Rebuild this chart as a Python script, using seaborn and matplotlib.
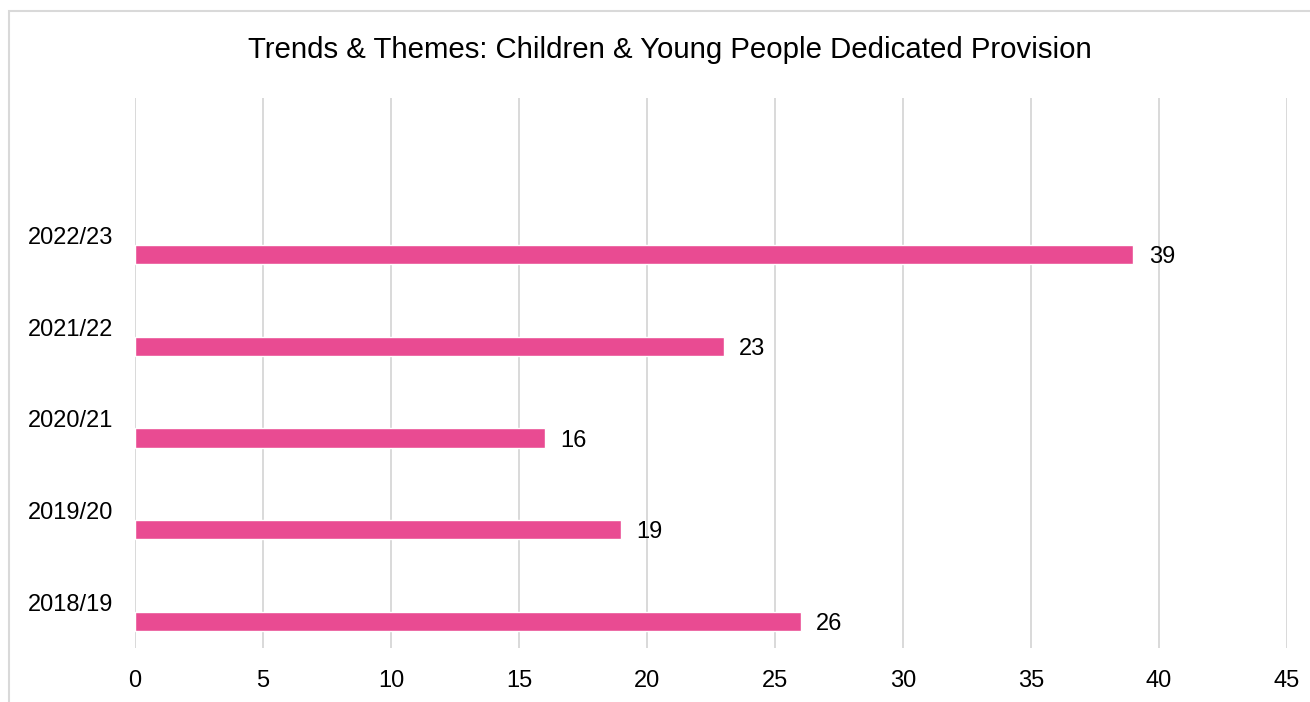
import numpy as np
import pandas as pd
import seaborn as sns
import matplotlib.pyplot as plt
from matplotlib.patches import Rectangle

years = ['2022/23', '2021/22', '2020/21', '2019/20', '2018/19']
counts = [39, 23, 16, 19, 26]
x_ticks = [0, 5, 10, 15, 20, 25, 30, 35, 40, 45]

df = pd.DataFrame({'Year': years, 'Count': counts})

sns.set_theme(style='white')
plt.rcParams['font.family'] = ['Liberation Sans', 'DejaVu Sans']

W, H = 1310, 702
fig = plt.figure(figsize=(W / 100, H / 100), dpi=100)
ax = fig.add_axes([135 / W, 1 - 648 / H, (1287 - 135) / W, (648 - 98) / H])

sns.barplot(data=df, y='Year', x='Count', order=years, color='#E94B92',
            width=0.21, saturation=1, ax=ax)

# labels sit a little above the bars, like the Excel original
off = 0.208
ax.set_yticks(np.arange(len(years)) - off)
ax.set_yticklabels(years)
ax.set_ylim(len(years) - 1 - off + 0.5, len(years) - 1 - off + 0.5 - 6)

ax.set_xlim(0, 45)
ax.set_xticks(x_ticks)
ax.set_xticklabels([str(t) for t in x_ticks])
ax.tick_params(axis='both', length=0, labelsize=17, colors='black')
ax.tick_params(axis='x', pad=16)
ax.tick_params(axis='y', pad=16)
ax.grid(axis='x', color='#D9D9D9', linewidth=1.4)
ax.set_axisbelow(True)
for s in ax.spines.values():
    s.set_visible(False)
ax.set_xlabel('')
ax.set_ylabel('')

for i, v in enumerate(counts):
    ax.annotate(str(v), (v, i), xytext=(11, -2), textcoords='offset points',
                va='center', ha='left', fontsize=17, color='black')

fig.text(670 / W, 1 - 50 / H,
         'Trends & Themes: Children & Young People Dedicated Provision',
         ha='center', va='center', fontsize=21.2, color='black')

fig.patches.append(Rectangle((9 / W, -0.1), 1.2, 1 - 11 / H + 0.1,
                             transform=fig.transFigure, fill=False,
                             edgecolor='#D9D9D9', linewidth=1.5))

fig.savefig('out.png', dpi=100, facecolor='white')
